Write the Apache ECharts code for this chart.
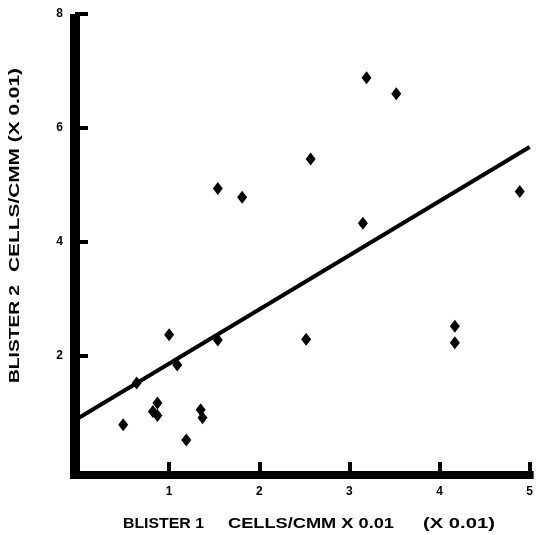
<!DOCTYPE html>
<html>
<head>
<meta charset="utf-8">
<script src="https://cdn.jsdelivr.net/npm/echarts@6/dist/echarts.min.js"></script>
<style>
  html, body { margin: 0; padding: 0; background: #fff; }
  #main { width: 536px; height: 535px; }
</style>
</head>
<body>
<div id="main"></div>
<script>
// blister 1 vs blister 2 counts (x 0.01)
var blister1 = [1.54, 1.81, 3.19, 3.52, 2.57, 4.89, 3.15, 1.00, 1.09, 1.54, 0.64,
  0.87, 0.82, 0.87, 1.35, 1.37, 0.49, 1.19, 2.52, 4.17, 4.17]
var blister2 = [4.93, 4.78, 6.88, 6.60, 5.45, 4.88, 4.32, 2.36, 1.83, 2.27, 1.51,
  1.16, 1.01, 0.94, 1.04, 0.90, 0.78, 0.51, 2.28, 2.51, 2.22]
// regression line end points
var fitX = [0, 5]
var fitY = [0.90, 5.66]

var xTicks = [1, 2, 3, 4, 5]
var yTicks = [2, 4, 6, 8]

var chart = echarts.init(document.getElementById('main'))

var labelFont = {
  color: '#000',
  fontFamily: 'Liberation Sans, Arial, sans-serif',
  fontWeight: 'bold',
  fontSize: 12
}
var NAME_FONT = 'bold 15px "Liberation Sans"'

// the printed titles are letter-spaced; stretch each word group to its printed length
var ctx = document.createElement('canvas').getContext('2d')
ctx.font = NAME_FONT
function nameText(text, x, y, width, vertical) {
  var w = ctx.measureText(text).width
  return {
    type: 'text',
    x: x,
    y: y,
    rotation: vertical ? Math.PI / 2 : 0,
    scaleX: width / w,
    style: {
      text: text,
      fill: '#000',
      font: NAME_FONT,
      textAlign: 'left',
      textVerticalAlign: 'middle'
    }
  }
}

var option = {
  backgroundColor: '#fff',
  animation: false,
  grid: { left: 79, right: 2, top: 14, bottom: 66 },
  xAxis: {
    type: 'value',
    min: 0,
    max: 5,
    interval: 1,
    offset: 6,
    splitLine: { show: false },
    axisLine: { onZero: false, lineStyle: { color: '#000', width: 8, cap: 'square' } },
    axisTick: { inside: true, length: 13, customValues: xTicks, lineStyle: { color: '#000', width: 4 } },
    axisLabel: Object.assign({ margin: 11, customValues: xTicks }, labelFont)
  },
  yAxis: {
    type: 'value',
    min: 0,
    max: 8,
    interval: 2,
    offset: 4,
    splitLine: { show: false },
    axisLine: { onZero: false, lineStyle: { color: '#000', width: 10, cap: 'butt' } },
    axisTick: { inside: true, length: 13, customValues: yTicks, lineStyle: { color: '#000', width: 4 } },
    axisLabel: Object.assign({ margin: 12, customValues: yTicks }, labelFont)
  },
  graphic: [
    nameText('BLISTER 1', 123, 524, 81),
    nameText('CELLS/CMM X 0.01', 228, 524, 166),
    nameText('(X 0.01)', 423, 524, 72),
    nameText('BLISTER 2', 15, 383, 98, true),
    nameText('CELLS/CMM (X 0.01)', 15, 272, 204, true)
  ],
  series: [
    {
      type: 'line',
      data: fitX.map(function (x, i) { return [x, fitY[i]] }),
      symbol: 'none',
      lineStyle: { color: '#000', width: 4 },
      z: 2
    },
    {
      type: 'scatter',
      data: blister1.map(function (x, i) { return [x, blister2[i]] }),
      symbol: 'diamond',
      symbolSize: [10, 13],
      itemStyle: { color: '#000', opacity: 1 },
      z: 3
    }
  ]
}

chart.setOption(option)

// fill the corner where the two thick axis bars meet
var origin = chart.convertToPixel({ gridIndex: 0 }, [0, 0])
option.graphic.push({
  type: 'rect',
  shape: { x: origin[0] - 9, y: origin[1] - 1, width: 10, height: 11 },
  style: { fill: '#000' }
})
chart.setOption({ graphic: option.graphic })
</script>
</body>
</html>
